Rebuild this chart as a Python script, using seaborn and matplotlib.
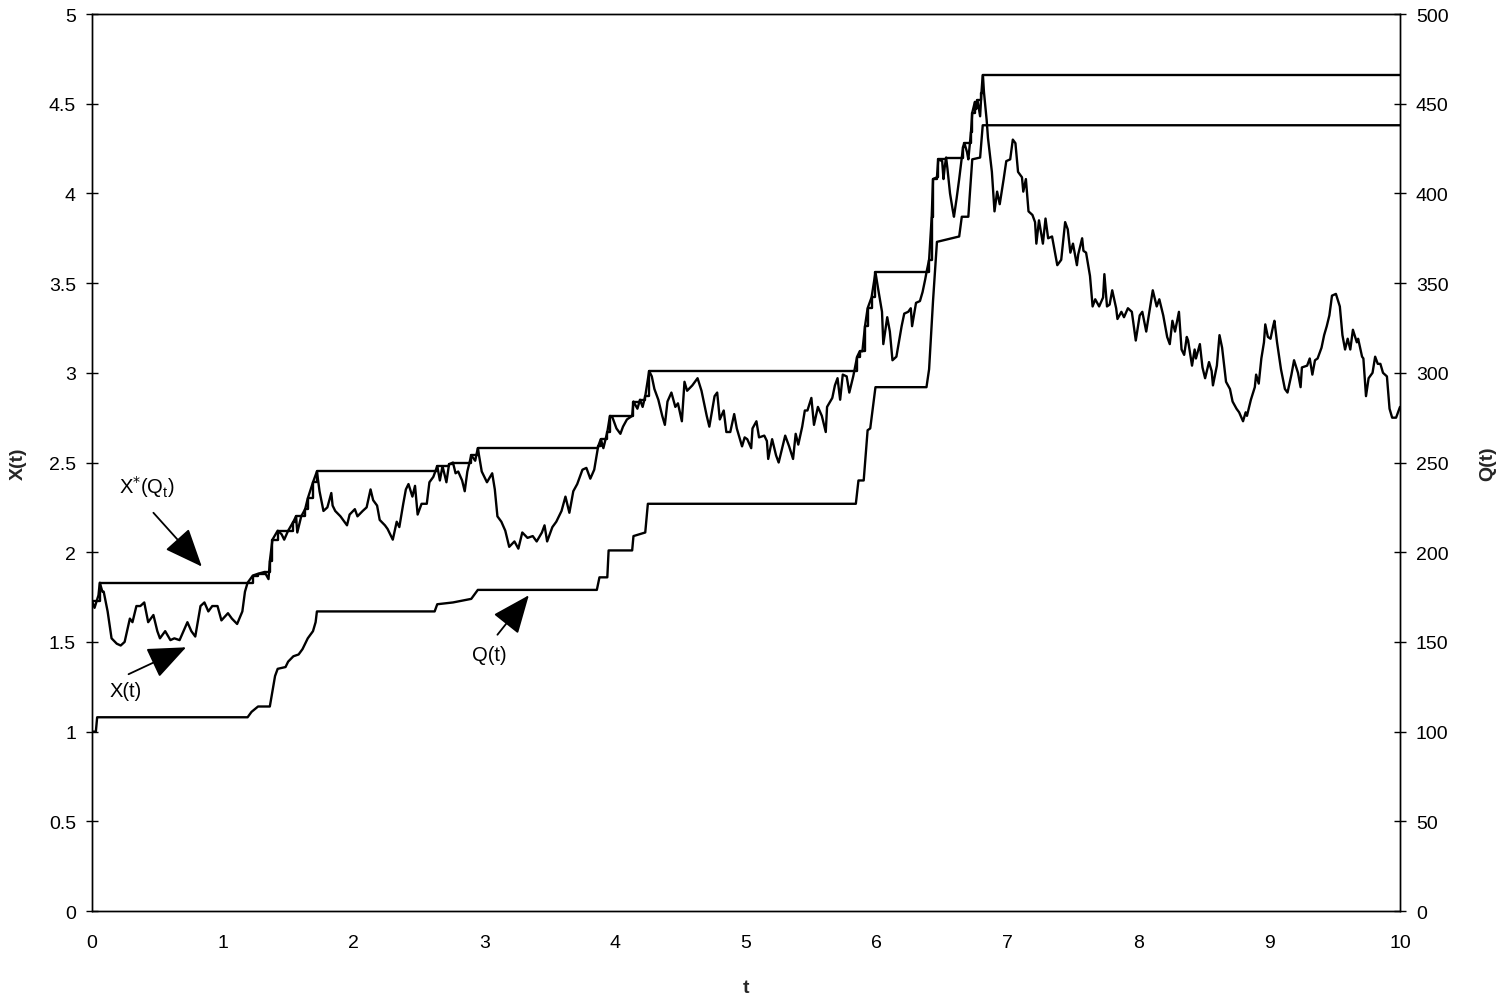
import matplotlib
matplotlib.use("Agg")
import matplotlib.pyplot as plt
import seaborn as sns
import pandas as pd

# X(t) sample path
t_x = [0.00, 0.02, 0.05, 0.06, 0.08, 0.09, 0.12, 0.15, 0.19, 0.22, 0.25, 0.29, 0.31, 0.34, 0.37, 0.40,
       0.43, 0.47, 0.50, 0.52, 0.56, 0.60, 0.63, 0.67, 0.70, 0.73, 0.76, 0.79, 0.83, 0.86, 0.89, 0.92,
       0.96, 0.99, 1.04, 1.07, 1.11, 1.15, 1.17, 1.19, 1.23, 1.27, 1.32, 1.35, 1.36, 1.38, 1.42, 1.45,
       1.47, 1.50, 1.54, 1.56, 1.57, 1.60, 1.63, 1.65, 1.69, 1.72, 1.74, 1.77, 1.80, 1.83, 1.84, 1.86,
       1.90, 1.92, 1.95, 1.97, 2.01, 2.03, 2.07, 2.10, 2.13, 2.15, 2.18, 2.20, 2.24, 2.26, 2.30, 2.33,
       2.35, 2.38, 2.40, 2.42, 2.45, 2.47, 2.49, 2.52, 2.56, 2.58, 2.61, 2.64, 2.66, 2.68, 2.71, 2.73,
       2.76, 2.78, 2.80, 2.83, 2.85, 2.87, 2.90, 2.93, 2.95, 2.98, 3.02, 3.06, 3.08, 3.10, 3.13, 3.16,
       3.19, 3.23, 3.26, 3.29, 3.33, 3.37, 3.40, 3.44, 3.46, 3.48, 3.52, 3.55, 3.59, 3.62, 3.65, 3.68,
       3.71, 3.75, 3.78, 3.81, 3.84, 3.87, 3.89, 3.91, 3.94, 3.96, 3.98, 4.01, 4.04, 4.06, 4.09, 4.13,
       4.14, 4.17, 4.19, 4.21, 4.23, 4.26, 4.28, 4.30, 4.33, 4.36, 4.38, 4.40, 4.43, 4.46, 4.48, 4.51,
       4.53, 4.55, 4.59, 4.63, 4.66, 4.70, 4.72, 4.76, 4.78, 4.80, 4.83, 4.85, 4.88, 4.91, 4.93, 4.97,
       4.99, 5.01, 5.04, 5.05, 5.08, 5.10, 5.14, 5.16, 5.17, 5.20, 5.23, 5.25, 5.28, 5.30, 5.33, 5.36,
       5.38, 5.40, 5.43, 5.45, 5.47, 5.50, 5.52, 5.55, 5.58, 5.61, 5.62, 5.66, 5.68, 5.70, 5.72, 5.74,
       5.77, 5.79, 5.82, 5.85, 5.87, 5.89, 5.91, 5.93, 5.96, 5.99, 6.01, 6.04, 6.05, 6.08, 6.10, 6.12,
       6.15, 6.19, 6.21, 6.24, 6.26, 6.27, 6.30, 6.33, 6.35, 6.37, 6.38, 6.40, 6.42, 6.43, 6.46, 6.47,
       6.50, 6.51, 6.52, 6.53, 6.54, 6.56, 6.58, 6.59, 6.61, 6.63, 6.66, 6.67, 6.69, 6.70, 6.72, 6.73,
       6.75, 6.76, 6.77, 6.79, 6.80, 6.81, 6.82, 6.84, 6.85, 6.88, 6.90, 6.92, 6.94, 6.97, 6.99, 7.02,
       7.04, 7.06, 7.08, 7.11, 7.12, 7.14, 7.16, 7.19, 7.21, 7.22, 7.24, 7.27, 7.29, 7.31, 7.34, 7.36,
       7.38, 7.41, 7.44, 7.46, 7.48, 7.50, 7.53, 7.54, 7.57, 7.58, 7.60, 7.63, 7.65, 7.67, 7.70, 7.73,
       7.74, 7.76, 7.78, 7.80, 7.83, 7.84, 7.87, 7.89, 7.92, 7.95, 7.98, 8.01, 8.03, 8.06, 8.09, 8.11,
       8.14, 8.16, 8.19, 8.22, 8.24, 8.26, 8.28, 8.31, 8.33, 8.35, 8.37, 8.38, 8.41, 8.43, 8.44, 8.47,
       8.49, 8.51, 8.54, 8.56, 8.57, 8.60, 8.62, 8.64, 8.67, 8.70, 8.72, 8.75, 8.77, 8.80, 8.82, 8.83,
       8.86, 8.89, 8.90, 8.92, 8.94, 8.96, 8.97, 8.99, 9.01, 9.03, 9.04, 9.06, 9.09, 9.12, 9.14, 9.17,
       9.19, 9.22, 9.24, 9.25, 9.29, 9.31, 9.33, 9.35, 9.37, 9.40, 9.42, 9.44, 9.46, 9.48, 9.51, 9.54,
       9.56, 9.58, 9.60, 9.62, 9.64, 9.67, 9.68, 9.71, 9.72, 9.74, 9.76, 9.79, 9.81, 9.83, 9.85, 9.87,
       9.90, 9.92, 9.94, 9.97, 10.00]
x_vals = [1.73, 1.69, 1.76, 1.83, 1.78, 1.78, 1.67, 1.52, 1.49, 1.48, 1.50, 1.63, 1.61, 1.70, 1.70, 1.72,
          1.61, 1.65, 1.56, 1.52, 1.56, 1.51, 1.52, 1.51, 1.56, 1.61, 1.56, 1.53, 1.70, 1.72, 1.67, 1.70,
          1.70, 1.62, 1.66, 1.63, 1.60, 1.67, 1.78, 1.83, 1.87, 1.88, 1.89, 1.85, 1.95, 2.07, 2.12, 2.10,
          2.07, 2.12, 2.17, 2.20, 2.11, 2.20, 2.24, 2.30, 2.39, 2.45, 2.34, 2.23, 2.25, 2.33, 2.26, 2.23,
          2.20, 2.18, 2.15, 2.21, 2.24, 2.20, 2.23, 2.25, 2.35, 2.29, 2.26, 2.18, 2.15, 2.13, 2.07, 2.17,
          2.14, 2.27, 2.35, 2.38, 2.31, 2.37, 2.21, 2.27, 2.27, 2.39, 2.42, 2.48, 2.40, 2.48, 2.39, 2.49,
          2.50, 2.44, 2.45, 2.40, 2.34, 2.45, 2.54, 2.51, 2.58, 2.45, 2.39, 2.44, 2.35, 2.20, 2.17, 2.12,
          2.03, 2.06, 2.02, 2.11, 2.08, 2.09, 2.06, 2.11, 2.15, 2.06, 2.14, 2.17, 2.23, 2.31, 2.22, 2.34,
          2.38, 2.46, 2.47, 2.41, 2.46, 2.59, 2.63, 2.58, 2.67, 2.76, 2.75, 2.69, 2.66, 2.70, 2.74, 2.76,
          2.84, 2.80, 2.85, 2.81, 2.87, 3.01, 2.98, 2.91, 2.85, 2.76, 2.71, 2.84, 2.89, 2.81, 2.83, 2.73,
          2.95, 2.90, 2.93, 2.97, 2.90, 2.76, 2.70, 2.87, 2.89, 2.74, 2.79, 2.67, 2.67, 2.77, 2.69, 2.59,
          2.64, 2.63, 2.58, 2.69, 2.73, 2.64, 2.65, 2.62, 2.52, 2.63, 2.54, 2.50, 2.59, 2.65, 2.59, 2.52,
          2.66, 2.60, 2.70, 2.79, 2.79, 2.86, 2.71, 2.81, 2.76, 2.67, 2.81, 2.86, 2.93, 2.97, 2.85, 2.99,
          2.98, 2.89, 2.98, 3.09, 3.12, 3.12, 3.26, 3.36, 3.42, 3.56, 3.47, 3.34, 3.16, 3.31, 3.23, 3.07,
          3.09, 3.26, 3.33, 3.34, 3.36, 3.26, 3.39, 3.40, 3.45, 3.52, 3.56, 3.63, 3.87, 4.08, 4.09, 4.19,
          4.18, 4.08, 4.15, 4.20, 4.14, 4.00, 3.91, 3.87, 3.97, 4.08, 4.26, 4.28, 4.23, 4.19, 4.34, 4.45,
          4.51, 4.47, 4.52, 4.43, 4.56, 4.66, 4.56, 4.41, 4.31, 4.12, 3.90, 4.01, 3.94, 4.08, 4.18, 4.19,
          4.30, 4.28, 4.12, 4.09, 4.01, 4.08, 3.90, 3.88, 3.84, 3.72, 3.85, 3.72, 3.86, 3.75, 3.76, 3.68,
          3.60, 3.63, 3.84, 3.80, 3.67, 3.72, 3.60, 3.66, 3.75, 3.68, 3.67, 3.54, 3.37, 3.41, 3.37, 3.42,
          3.55, 3.37, 3.38, 3.46, 3.36, 3.30, 3.34, 3.31, 3.36, 3.34, 3.18, 3.32, 3.34, 3.23, 3.37, 3.46,
          3.37, 3.41, 3.32, 3.20, 3.16, 3.29, 3.23, 3.34, 3.13, 3.10, 3.20, 3.18, 3.04, 3.13, 3.08, 3.16,
          3.03, 2.97, 3.06, 3.01, 2.93, 3.04, 3.21, 3.14, 2.95, 2.91, 2.84, 2.80, 2.78, 2.73, 2.78, 2.76,
          2.85, 2.92, 2.99, 2.94, 3.08, 3.17, 3.27, 3.20, 3.19, 3.26, 3.29, 3.17, 3.02, 2.91, 2.89, 2.99,
          3.07, 3.00, 2.92, 3.03, 3.04, 3.08, 2.99, 3.07, 3.08, 3.14, 3.21, 3.26, 3.32, 3.43, 3.44, 3.37,
          3.21, 3.13, 3.19, 3.13, 3.24, 3.17, 3.19, 3.09, 3.08, 2.87, 2.97, 3.00, 3.09, 3.05, 3.05, 3.00,
          2.98, 2.80, 2.75, 2.75, 2.81]

# X*(Q_t): level changes (start time, level)
t_star = [0.00, 0.06, 1.23, 1.27, 1.32, 1.36, 1.38, 1.42, 1.54, 1.56, 1.63, 1.65, 1.69, 1.72,
          2.64, 2.73, 2.76, 2.90, 2.95, 3.87, 3.89, 3.94, 3.96, 4.14, 4.19, 4.23, 4.26,
          5.85, 5.87, 5.91, 5.93, 5.96, 5.99, 6.40, 6.42, 6.43, 6.46, 6.47, 6.53, 6.66, 6.67,
          6.72, 6.73, 6.75, 6.77, 6.80, 6.81, 10.00]
x_star = [1.73, 1.83, 1.87, 1.88, 1.89, 1.95, 2.07, 2.12, 2.17, 2.20, 2.24, 2.30, 2.39, 2.45,
          2.48, 2.49, 2.50, 2.54, 2.58, 2.59, 2.63, 2.67, 2.76, 2.84, 2.85, 2.87, 3.01,
          3.09, 3.12, 3.26, 3.36, 3.42, 3.56, 3.63, 3.87, 4.08, 4.09, 4.19, 4.20, 4.26, 4.28,
          4.34, 4.45, 4.51, 4.52, 4.56, 4.66, 4.66]

# Q(t) on the right axis
t_q = [0.00, 0.03, 0.04, 1.19, 1.22, 1.27, 1.36, 1.40, 1.42, 1.48, 1.50, 1.54, 1.58, 1.61, 1.65,
       1.69, 1.71, 1.72, 2.62, 2.64, 2.76, 2.90, 2.95, 3.86, 3.88, 3.94, 3.95, 4.13, 4.14, 4.23,
       4.25, 5.84, 5.86, 5.90, 5.93, 5.95, 5.99, 6.38, 6.40, 6.43, 6.46, 6.63, 6.65, 6.70, 6.71,
       6.73, 6.79, 6.81, 10.00]
q_vals = [100, 100, 108, 108, 111, 114, 114, 131, 135, 136, 139, 142, 143, 146, 152,
          156, 161, 167, 167, 171, 172, 174, 179, 179, 186, 186, 201, 201, 209, 211,
          227, 227, 240, 240, 268, 269, 292, 292, 302, 340, 373, 376, 387, 387, 398,
          419, 420, 438, 438]

x_df = pd.DataFrame({"t": t_x, "X": x_vals})
star_df = pd.DataFrame({"t": t_star, "Xs": x_star})
q_df = pd.DataFrame({"t": t_q, "Q": q_vals})

sns.set_style("white")
plt.rcParams["font.family"] = ["Liberation Sans", "DejaVu Sans"]

fig = plt.figure(figsize=(15.07, 9.95), dpi=100)
ax = fig.add_axes([0.061, 0.0834, 0.868, 0.9015])
ax2 = ax.twinx()

sns.lineplot(data=x_df, x="t", y="X", ax=ax, color="black", linewidth=1.7,
             sort=False, estimator=None)
sns.lineplot(data=star_df, x="t", y="Xs", ax=ax, color="black", linewidth=1.7,
             sort=False, estimator=None, drawstyle="steps-post")
sns.lineplot(data=q_df, x="t", y="Q", ax=ax2, color="black", linewidth=1.7,
             sort=False, estimator=None)

ax.set_xlim(0, 10)
ax.set_ylim(0, 5)
ax2.set_ylim(0, 500)
ax.set_xticks(range(0, 11))
ax.set_yticks([0, 0.5, 1, 1.5, 2, 2.5, 3, 3.5, 4, 4.5, 5])
ax.set_yticklabels(["0", "0.5", "1", "1.5", "2", "2.5", "3", "3.5", "4", "4.5", "5"])
ax2.set_yticks(range(0, 501, 50))

for a in (ax, ax2):
    for s in a.spines.values():
        s.set_color("black")
        s.set_linewidth(1.0)
    a.tick_params(direction="inout", length=9, width=1, color="black",
                  labelsize=14, labelcolor="black")
ax.tick_params(axis="y", pad=7)
ax2.tick_params(axis="y", pad=7)
ax.tick_params(axis="x", pad=12)

ax.set_xlabel("t", fontsize=14, fontweight="bold", labelpad=20)
ax.set_ylabel("X(t)", fontsize=14, fontweight="bold", labelpad=16)
ax2.set_ylabel("Q(t)", fontsize=14, fontweight="bold", labelpad=22)

arrow = dict(arrowstyle="-|>,head_length=2.4,head_width=1.0", color="black", lw=1.3,
             shrinkA=0, shrinkB=0)
ax.annotate("", xy=(0.84, 1.92), xytext=(0.47, 2.22), arrowprops=arrow)
ax.text(0.42, 2.37, r"X$^{*}$(Q$_{\mathregular{t}}$)", ha="center", va="center",
        fontsize=14.5, color="black")
ax.annotate("", xy=(0.72, 1.47), xytext=(0.28, 1.32), arrowprops=arrow)
ax.text(0.26, 1.23, "X(t)", ha="center", va="center", fontsize=14.5, color="black")
ax.annotate("", xy=(3.34, 1.76), xytext=(3.10, 1.54), arrowprops=arrow)
ax.text(3.04, 1.43, "Q(t)", ha="center", va="center", fontsize=14.5, color="black")

fig.savefig("out.png", dpi=100)
